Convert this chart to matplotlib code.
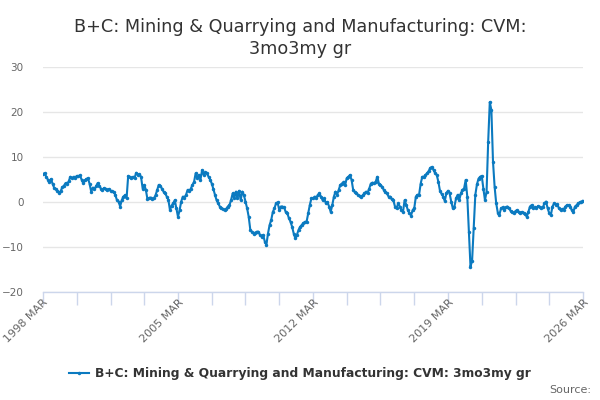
import matplotlib
matplotlib.use("Agg")
import matplotlib.pyplot as plt
from matplotlib.ticker import FixedLocator, NullFormatter

plt.rcParams.update({
    "font.family": "DejaVu Sans",
    "font.size": 8,
})

LINE_BLUE = "#0b7ac0"
GRID_GREY = "#e6e6e6"
AXIS_BLUE = "#ccd6eb"
TEXT_GREY = "#666666"
TITLE_DARK = "#333333"

TITLE = "B+C: Mining & Quarrying and Manufacturing: CVM:\n3mo3my gr"
SERIES_NAME = "B+C: Mining & Quarrying and Manufacturing: CVM: 3mo3my gr"

# monthly values, first point 1998 MAR, one row per year (MAR..FEB)
vals_1998_2004 = [
    6.2, 6.4, 5.6, 5.0, 4.5, 5.1, 4.0, 3.1, 2.9, 2.5, 2.1, 2.4,
    3.3, 3.6, 4.2, 4.0, 4.6, 5.6, 5.3, 5.6, 5.4, 5.8, 5.7, 5.9,
    5.0, 4.2, 4.8, 5.1, 5.3, 4.0, 2.3, 3.2, 2.8, 3.5, 4.2, 3.6,
    3.0, 2.7, 3.1, 2.8, 2.6, 2.9, 2.5, 2.4, 2.2, 1.6, 0.4, 0.1,
    -1.0, 0.4, 1.2, 1.5, 0.8, 5.8, 5.5, 5.3, 5.6, 5.4, 6.5, 6.0,
    6.2, 5.6, 3.0, 3.8, 2.7, 0.6, 0.9, 1.0, 0.7, 0.8, 1.5, 2.6,
    3.8, 3.5, 3.0, 2.3, 2.0, 1.2, 0.5, -1.8, -0.8, -0.3, 0.4, -1.4,
]
vals_2005_2011 = [
    -3.3, -1.8, 0.1, 1.2, 1.0, 1.6, 2.7, 2.4, 3.0, 3.8, 4.5, 6.4,
    5.3, 6.0, 5.0, 7.1, 6.0, 6.6, 6.4, 5.6, 5.0, 4.1, 2.9, 1.6,
    0.4, -0.3, -1.0, -1.4, -1.6, -1.8, -1.5, -1.0, -0.7, 0.4, 1.9, 0.8,
    2.3, 0.8, 2.5, 0.4, 2.3, 1.5, 0.1, -1.4, -3.3, -6.2, -6.6, -7.0,
    -6.8, -6.6, -6.6, -7.3, -7.7, -7.3, -8.8, -9.5, -7.0, -5.1, -4.0, -2.2,
    -1.4, -0.3, -0.1, -1.8, -1.0, -1.0, -1.2, -2.2, -2.5, -3.6, -4.4, -5.5,
    -7.0, -8.1, -7.3, -6.2, -5.5, -5.1, -4.7, -4.4, -4.4, -2.5, -0.7, 0.8,
]
vals_2012_2018 = [
    0.8, 1.2, 0.9, 1.6, 1.9, 1.2, 0.4, 0.8, -0.3, 0.0, -1.0, -2.2,
    -0.7, 1.2, 2.3, 1.6, 2.7, 3.8, 4.1, 4.5, 3.8, 5.3, 5.6, 6.0,
    4.9, 2.7, 2.2, 1.9, 1.6, 1.3, 1.2, 1.5, 1.9, 2.3, 2.1, 3.0,
    4.1, 4.3, 4.2, 4.5, 5.6, 4.1, 3.8, 3.4, 2.7, 2.3, 1.9, 1.2,
    1.2, 0.6, 0.4, -1.0, -1.4, -0.3, -1.0, -1.8, -2.2, 0.4, -0.6, -1.8,
    -2.5, -3.0, -1.8, -1.4, 1.2, 1.6, 1.6, 4.1, 5.6, 5.6, 6.0, 6.4,
    6.9, 7.6, 7.8, 7.1, 6.4, 6.0, 4.5, 2.5, 1.8, 1.2, 0.2, 2.0,
]
vals_2019_2026 = [
    2.5, 1.9, 0.1, -1.4, -1.0, 0.8, 1.6, 0.4, 1.9, 2.7, 3.0, 4.9,
    1.2, -6.6, -14.4, -13.0, -5.7, 1.6, 3.9, 5.2, 5.6, 5.8, 3.0, 0.4,
    2.3, 13.4, 22.2, 20.4, 9.0, 3.4, -0.3, -2.4, -2.8, -1.4, -1.2, -1.8,
    -1.2, -1.0, -1.4, -2.0, -2.2, -2.5, -2.0, -1.8, -2.3, -2.4, -2.2, -2.4,
    -2.6, -3.3, -2.2, -1.0, -0.7, -1.4, -1.2, -1.4, -0.9, -1.1, -1.4, -1.2,
    -0.3, 0.1, -1.4, -2.5, -2.9, -1.0, -0.3, -0.6, -0.5, -1.4, -1.8, -1.6,
    -1.7, -1.0, -0.7, -0.7, -1.0, -1.8, -2.2, -1.0, -0.7, -0.3, -0.1, 0.1,
    0.3,
]
values = vals_1998_2004 + vals_2005_2011 + vals_2012_2018 + vals_2019_2026

tick_step = 21  # months between x ticks
label_every = 4
label_years = [1998, 2005, 2012, 2019, 2026]
y_ticks = [-20, -10, 0, 10, 20, 30]

months = list(range(len(values)))

fig = plt.figure(figsize=(6, 4), dpi=100)
ax = fig.add_axes([43 / 600, 1 - 292 / 400, 540 / 600, 225 / 400])

ax.plot(months, values, color=LINE_BLUE, linewidth=1.5,
        marker="o", markersize=2.5, markeredgewidth=0, zorder=3,
        label=SERIES_NAME)

ax.set_xlim(0, months[-1])
ax.set_ylim(-20, 30)

ax.set_yticks(y_ticks)
ax.yaxis.grid(True, color=GRID_GREY, linewidth=1)
ax.set_axisbelow(True)
ax.tick_params(axis="y", length=0, labelsize=7.5, labelcolor=TEXT_GREY, pad=14)

all_ticks = list(range(0, months[-1] + 1, tick_step))
ax.xaxis.set_major_locator(FixedLocator(all_ticks))
ax.xaxis.set_major_formatter(NullFormatter())
ax.tick_params(axis="x", length=9, width=1, color=AXIS_BLUE, direction="out")
for k, yr in enumerate(label_years):
    ax.text(all_ticks[k * label_every], -21.2, f"{yr} MAR", rotation=45,
            ha="right", va="top", rotation_mode="anchor",
            fontsize=8, color=TEXT_GREY)

for side in ("top", "right", "left"):
    ax.spines[side].set_visible(False)
ax.spines["bottom"].set_color(AXIS_BLUE)
ax.spines["bottom"].set_linewidth(1)

fig.text(0.5, 0.955, TITLE, ha="center", va="top", fontsize=12.7,
         color=TITLE_DARK, linespacing=1.25)

leg = fig.legend(loc="center", bbox_to_anchor=(0.5, 1 - 374 / 400),
                 frameon=False, handlelength=1.6, handletextpad=0.5,
                 prop={"weight": "bold", "size": 8.8})
for t in leg.get_texts():
    t.set_color(TITLE_DARK)

fig.text(0.985, 1 - 390 / 400, "Source:", ha="right", va="center",
         fontsize=8, color=TEXT_GREY)

fig.savefig("out.png", dpi=100)
